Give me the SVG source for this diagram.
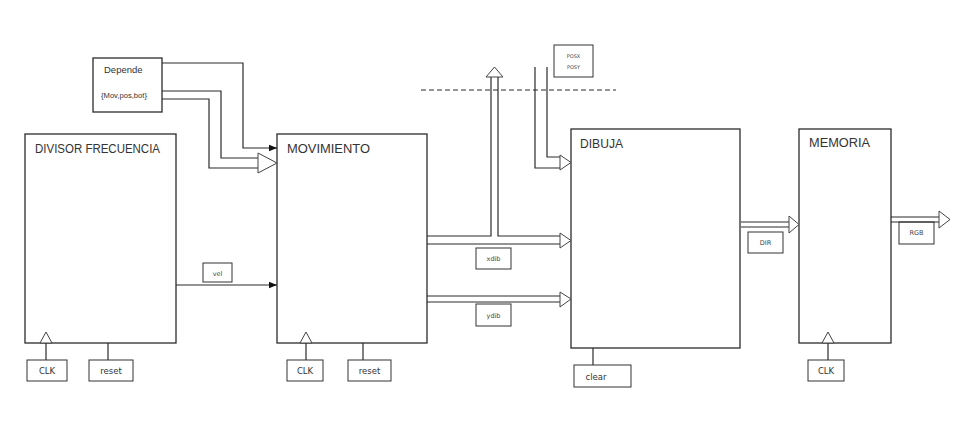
<svg xmlns="http://www.w3.org/2000/svg" width="960" height="442" viewBox="0 0 960 442">
<style>
.box{fill:#fff;stroke:#2b2b2b;stroke-width:1.3}
.lbl{fill:#fff;stroke:#333;stroke-width:1}
.ln{fill:none;stroke:#2b2b2b;stroke-width:1.2}
.tri{fill:#fff;stroke:#444;stroke-width:1}
.title{font-family:"Liberation Sans",Arial,sans-serif;font-size:12px;fill:#333}
.dep{font-family:"Liberation Sans",Arial,sans-serif;font-size:9.5px;fill:#333}
.small{font-family:"DejaVu Sans",sans-serif;font-size:8.5px;fill:#333;text-anchor:middle}
.tiny{font-family:"DejaVu Sans",sans-serif;font-size:6.5px;fill:#444;text-anchor:middle}
.micro{font-family:"DejaVu Sans",sans-serif;font-size:5px;fill:#444;text-anchor:middle}
</style>
<defs>
<marker id="ah" markerWidth="8" markerHeight="8" refX="8" refY="4" orient="auto" markerUnits="userSpaceOnUse">
<path d="M0,0.8 L8,4 L0,7.2 Z" fill="#111"/>
</marker>
</defs>
<rect width="960" height="442" fill="#fff"/>

<g id="divisor">
<rect class="box" x="25" y="134" width="151" height="209"/>
<text class="title" x="35" y="153" textLength="125" lengthAdjust="spacingAndGlyphs">DIVISOR FRECUENCIA</text>
<line class="ln" x1="46" y1="343" x2="46" y2="360"/>
<polygon class="tri" points="40,343 46,332 52,343"/>
<line class="ln" x1="108" y1="343" x2="108" y2="360"/>
</g>
<g id="clk1"><rect class="lbl" x="27" y="360" width="40" height="21"/><text class="small" x="47" y="374">CLK</text></g>
<g id="reset1"><rect class="lbl" x="89" y="360" width="44" height="21"/><text class="small" x="111" y="374">reset</text></g>

<g id="depende">
<rect class="box" x="93" y="58" width="69" height="54"/>
<text class="dep" x="104" y="73">Depende</text>
<text class="dep" x="101" y="98" style="font-size:6.5px" textLength="46" lengthAdjust="spacingAndGlyphs">{Mov,pos,bot}</text>
</g>

<g id="movimiento">
<rect class="box" x="277" y="134" width="150" height="209"/>
<text class="title" x="287" y="153" textLength="83" lengthAdjust="spacingAndGlyphs">MOVIMIENTO</text>
<line class="ln" x1="306" y1="343" x2="306" y2="360"/>
<polygon class="tri" points="300,343 306,332 312,343"/>
<line class="ln" x1="363" y1="343" x2="363" y2="360"/>
</g>
<g id="clk2"><rect class="lbl" x="287" y="360" width="36" height="21"/><text class="small" x="305" y="374">CLK</text></g>
<g id="reset2"><rect class="lbl" x="348" y="360" width="43" height="21"/><text class="small" x="369.5" y="374">reset</text></g>

<g id="dibuja">
<rect class="box" x="571" y="129" width="169" height="219"/>
<text class="title" x="580" y="148" textLength="43" lengthAdjust="spacingAndGlyphs">DIBUJA</text>
<line class="ln" x1="593" y1="348" x2="593" y2="365"/>
</g>
<g id="clear"><rect class="lbl" x="574" y="365" width="57" height="22"/><text class="small" x="596" y="380">clear</text></g>

<g id="memoria">
<rect class="box" x="799" y="129" width="92" height="214"/>
<text class="title" x="809" y="147" textLength="61" lengthAdjust="spacingAndGlyphs">MEMORIA</text>
<line class="ln" x1="828" y1="343" x2="828" y2="360"/>
<polygon class="tri" points="822,343 828,332 834,343"/>
</g>
<g id="clk3"><rect class="lbl" x="808" y="360" width="36" height="21"/><text class="small" x="826" y="374">CLK</text></g>

<g id="posxy">
<rect class="lbl" x="554" y="45" width="39" height="32"/>
<text class="micro" x="573.5" y="58">POSX</text>
<text class="micro" x="573.5" y="69">POSY</text>
</g>

<g id="vel"><rect class="lbl" x="203" y="263" width="29" height="19"/><text class="tiny" x="217.5" y="276">vel</text></g>
<g id="xdib"><rect class="lbl" x="476" y="248" width="35" height="21"/><text class="tiny" x="493.5" y="261">xdib</text></g>
<g id="ydib"><rect class="lbl" x="476" y="304" width="35" height="22"/><text class="tiny" x="493.5" y="318">ydib</text></g>
<g id="dir"><rect class="lbl" x="748" y="232" width="35" height="21"/><text class="tiny" x="765.5" y="245">DIR</text></g>
<g id="rgb"><rect class="lbl" x="899" y="222" width="35" height="22"/><text class="tiny" x="916.5" y="235">RGB</text></g>

<g id="connectors">
<path class="ln" d="M162,63 H243 V148 H277" marker-end="url(#ah)"/>
<path class="ln" d="M162,91 H221 V158 H258"/>
<path class="ln" d="M162,99 H209 V168 H258"/>
<polygon class="tri" points="258,153 277,163 258,173"/>
<path class="ln" d="M176,285 H277" marker-end="url(#ah)"/>
<path class="ln" d="M427,236 H491 V77"/>
<path class="ln" d="M498,77 V236 H560"/>
<path class="ln" d="M427,244 H560"/>
<polygon class="tri" points="486,77 494.5,67 503,77"/>
<polygon class="tri" points="560,233 571,240.5 560,248"/>
<path class="ln" d="M427,296 H560"/>
<path class="ln" d="M427,302 H560"/>
<polygon class="tri" points="560,292 571,299 560,307"/>
<path class="ln" d="M535,67 V168 H560"/>
<path class="ln" d="M547,67 V157 H560"/>
<polygon class="tri" points="560,155 571,162.5 560,170"/>
<path class="ln" d="M421,90 H616" stroke-dasharray="5,3"/>
<path class="ln" d="M741,222 H789"/>
<path class="ln" d="M741,227 H789"/>
<polygon class="tri" points="789,216 799,224.5 789,233"/>
<path class="ln" d="M891,217 H939"/>
<path class="ln" d="M891,222 H939"/>
<polygon class="tri" points="939,211 950,219.5 939,228"/>
</g>
</svg>
